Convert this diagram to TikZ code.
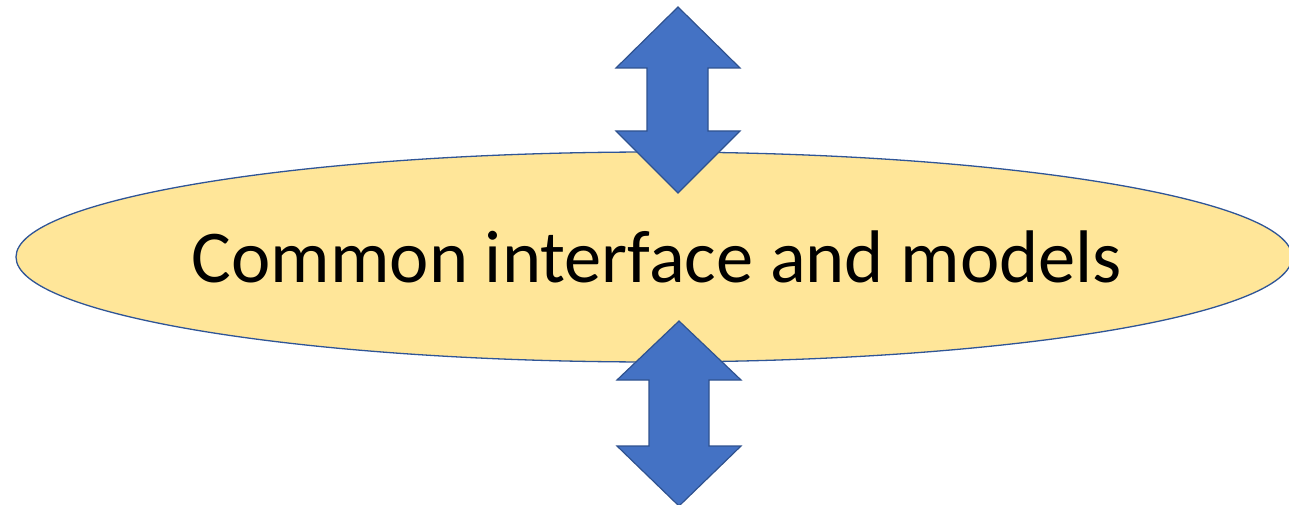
\documentclass[tikz,border=0pt]{standalone}
\usepackage{fontspec}
\setmainfont{Carlito}
\usetikzlibrary{shapes.geometric}
\definecolor{ellfill}{HTML}{FFE699}
\definecolor{ellline}{HTML}{2F5597}
\definecolor{arrfill}{HTML}{4472C4}
\definecolor{arrline}{HTML}{2F528F}
\tikzset{
  blockarrow/.style={fill=arrfill, draw=arrline, line width=1.2pt, line join=miter},
  oval/.style={ellipse, fill=ellfill, draw=ellline, line width=1.3pt, inner sep=0pt,
    minimum width=1276pt, minimum height=210pt},
  labeltext/.style={inner sep=0pt, anchor=base, font=\fontsize{74.5}{80}\selectfont}
}
\begin{document}
\begin{tikzpicture}[x=1pt,y=-1pt]
\useasboundingbox (0,0) rectangle (1289,505);
\node[oval] (ell) at (654,257) {};
\node[labeltext] (lbl) at (657,282) {Common interface and models};
% top double arrow
\draw[blockarrow] (678,7) -- (740,68) -- (708,68) -- (708,131) -- (740,131) -- (678,193)
  -- (616,131) -- (647,131) -- (647,68) -- (616,68) -- cycle;
% bottom double arrow
\draw[blockarrow] (679,321) -- (741,380) -- (709,380) -- (709,446) -- (741,446) -- (679,506)
  -- (617,446) -- (649,446) -- (649,380) -- (617,380) -- cycle;
\end{tikzpicture}
\end{document}
